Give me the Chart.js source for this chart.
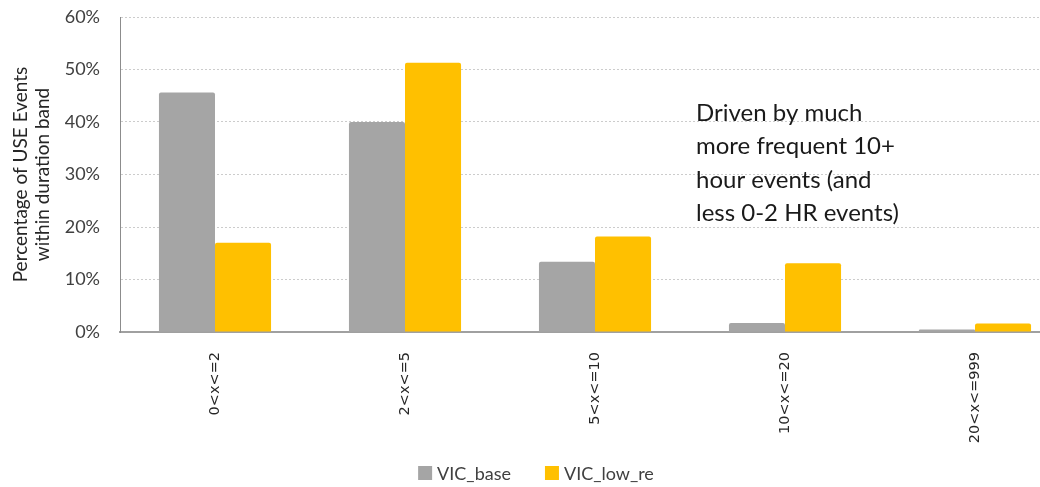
<!DOCTYPE html>
<html>
<head>
<meta charset="utf-8">
<script src="https://cdn.jsdelivr.net/npm/chart.js@4.4.1/dist/chart.umd.min.js"></script>
<style>
  html, body { margin: 0; padding: 0; background: #ffffff; overflow: hidden; }
  /* the plot runs on past the right edge of the visible frame */
  #wrap { width: 1040px; height: 487px; position: relative; overflow: hidden; }
  #chart { position: absolute; left: 0; top: 0; }
</style>
</head>
<body>
<div id="wrap"><canvas id="chart" width="1070" height="487"></canvas></div>
<script>
// Duration bands (hours) and share of USE events in each band
const categories = ['0<x<=2', '2<x<=5', '5<x<=10', '10<x<=20', '20<x<=999'];
const vicBase = [0.456, 0.400, 0.134, 0.017, 0.005];
const vicLowRe = [0.170, 0.513, 0.182, 0.131, 0.016];
const seriesNames = ['VIC_base', 'VIC_low_re'];
const yTicks = [0, 0.1, 0.2, 0.3, 0.4, 0.5, 0.6];
const noteLines = ['Driven by much', 'more frequent 10+', 'hour events (and', 'less 0-2 HR events)'];

const textFont = 'Lato, "Open Sans", sans-serif';

// Free-standing note drawn in the upper right of the plot
const notePlugin = {
  id: 'note',
  afterDraw(chart) {
    const { ctx, scales } = chart;
    const x = scales.x.getPixelForValue(3) - 89;
    const y = scales.y.getPixelForValue(0.417);
    ctx.save();
    ctx.font = '24px ' + textFont;
    ctx.fillStyle = '#1a1a1a';
    ctx.textAlign = 'left';
    ctx.textBaseline = 'middle';
    noteLines.forEach((line, i) => {
      ctx.fillText(line, x, y + i * 33.5);
    });
    ctx.restore();
  }
};

// Legend row under the axis labels, built from the datasets
const legendRowPlugin = {
  id: 'legendRow',
  afterDraw(chart) {
    const { ctx } = chart;
    const box = 14, textGap = 5, itemGap = 34, centerX = 536, centerY = 473;
    ctx.save();
    ctx.font = '18px ' + textFont;
    ctx.textBaseline = 'middle';
    ctx.textAlign = 'left';
    const items = chart.data.datasets.map(ds => ({
      text: ds.label,
      color: ds.backgroundColor,
      w: ctx.measureText(ds.label).width
    }));
    const total = items.reduce((s, it) => s + box + textGap + it.w, 0) + itemGap * (items.length - 1);
    let x = centerX - total / 2;
    items.forEach(it => {
      ctx.fillStyle = it.color;
      ctx.fillRect(x, centerY - box / 2, box, box);
      x += box + textGap;
      ctx.fillStyle = '#404040';
      ctx.fillText(it.text, x, centerY + 1);
      x += it.w + itemGap;
    });
    ctx.restore();
  }
};

new Chart(document.getElementById('chart'), {
  type: 'bar',
  data: {
    labels: categories,
    datasets: [
      { label: seriesNames[0], data: vicBase, backgroundColor: '#A5A5A5', borderRadius: 2, borderSkipped: 'bottom' },
      { label: seriesNames[1], data: vicLowRe, backgroundColor: '#FFC000', borderRadius: 2, borderSkipped: 'bottom' }
    ]
  },
  options: {
    responsive: false,
    animation: false,
    devicePixelRatio: 1,
    layout: { padding: { top: 17, right: 0, left: 0, bottom: 0 } },
    datasets: { bar: { categoryPercentage: 0.59, barPercentage: 1.0 } },
    plugins: {
      legend: { display: false },
      tooltip: { enabled: false }
    },
    scales: {
      x: {
        grid: { display: false },
        border: { display: true, color: '#a0a0a0', width: 2 },
        ticks: {
          minRotation: 90,
          maxRotation: 90,
          padding: 12,
          font: { family: '"DejaVu Sans", sans-serif', size: 14.5 },
          color: '#262626'
        },
        afterFit(scale) { scale.height = 155; }
      },
      y: {
        min: 0,
        max: 0.6,
        afterBuildTicks(scale) { scale.ticks = yTicks.map(v => ({ value: v })); },
        grid: {
          color: '#cccccc',
          lineWidth: 1,
          drawTicks: true,
          tickLength: 18,
          tickColor: 'rgba(0,0,0,0)'
        },
        border: { display: true, color: '#8c8c8c', width: 1, dash: [2, 2] },
        ticks: {
          padding: 2,
          font: { family: textFont, size: 18 },
          color: '#404040',
          callback: v => Math.round(v * 100) + '%'
        },
        title: {
          display: true,
          text: ['Percentage of USE Events', 'within duration band'],
          font: { family: textFont, size: 19, lineHeight: 1.2 },
          color: '#262626',
          padding: { top: 9, bottom: 0 }
        },
        afterFit(scale) { scale.width = 120; }
      }
    }
  },
  plugins: [notePlugin, legendRowPlugin]
});
</script>
</body>
</html>
